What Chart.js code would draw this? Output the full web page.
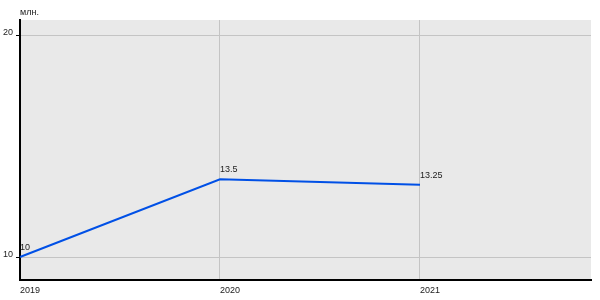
<!DOCTYPE html>
<html>
<head>
<meta charset="utf-8">
<script src="https://cdn.jsdelivr.net/npm/chart.js@4.4.0/dist/chart.umd.min.js"></script>
<style>
    html, body { margin: 0; padding: 0; background: #fff; }
    #box { width: 600px; height: 300px; }
</style>
</head>
<body>
<div id="box"><canvas id="myChart"></canvas></div>
<script>
let years = [2019, 2020, 2021];
let values = [10, 13.5, 13.25];
let yTicks = [10, 20];
let unit = "млн.";

let points = [];
for (let i = 0; i < years.length; i++) {
    points.push({x: years[i], y: values[i]});
}

let font = {family: "'Liberation Sans', Arial, sans-serif", size: 9};

// grey plot background
let areaBg = {
    id: "areaBg",
    beforeDraw(chart) {
        let c = chart.ctx, a = chart.chartArea;
        c.save();
        c.fillStyle = "#e9e9e9";
        c.fillRect(a.left, a.top, a.right - a.left, a.bottom - a.top);
        c.restore();
    }
};

// unit text and value labels
let texts = {
    id: "texts",
    afterDatasetsDraw(chart) {
        let c = chart.ctx;
        c.save();
        c.font = font.size + "px " + font.family;
        c.fillStyle = "#222";
        c.textAlign = "left";
        c.textBaseline = "alphabetic";
        c.fillText(unit, chart.chartArea.left, 15);
        let meta = chart.getDatasetMeta(0);
        meta.data.forEach((p, i) => {
            c.fillText(String(values[i]), p.x, p.y - 7);
        });
        c.restore();
    }
};

let config = {
    type: "line",
    data: {
        datasets: [{
            data: points,
            borderColor: "#0050e6",
            borderWidth: 2,
            pointRadius: 0,
            tension: 0,
            clip: false
        }]
    },
    options: {
        responsive: true,
        maintainAspectRatio: false,
        animation: false,
        layout: {padding: {top: 20, right: 9, left: 0, bottom: 0}},
        plugins: {legend: {display: false}, tooltip: {enabled: false}},
        scales: {
            x: {
                type: "linear",
                min: 2019,
                max: 2021.855,
                afterBuildTicks: s => { s.ticks = years.map(v => ({value: v})); },
                afterFit: s => { s.height = 20; },
                grid: {color: "#c4c4c4", drawTicks: false},
                border: {color: "#000", width: 2},
                ticks: {
                    font: font, color: "#222", padding: 5, align: "start",
                    maxRotation: 0, callback: v => String(v)
                }
            },
            y: {
                min: 8.964,
                max: 20.676,
                afterBuildTicks: s => { s.ticks = yTicks.map(v => ({value: v})); },
                afterFit: s => { s.width = 20; },
                grid: {color: "#c4c4c4", tickColor: "#000", tickLength: 4},
                border: {color: "#000", width: 2},
                ticks: {font: font, color: "#222", padding: 3, labelOffset: -2}
            }
        }
    },
    plugins: [areaBg, texts]
};

let myChart = new Chart(document.getElementById("myChart"), config);
</script>
</body>
</html>
